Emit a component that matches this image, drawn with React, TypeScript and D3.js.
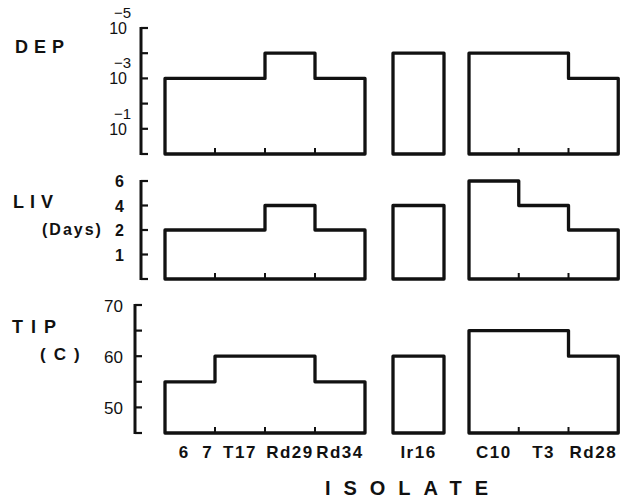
import React from "react";
import * as d3 from "d3";

// ---- data ----
const isolates = ["6  7", "T17", "Rd29", "Rd34", "Ir16", "C10", "T3", "Rd28"];
const groupOf = [0, 0, 0, 0, 1, 2, 2, 2];
const depValues = [1e-3, 1e-3, 1e-4, 1e-3, 1e-4, 1e-4, 1e-4, 1e-3];
const livValues = [2, 2, 4, 2, 4, 6, 4, 2];
const tipValues = [55, 60, 60, 55, 60, 65, 65, 60];

const depTicks = [1, 1e-1, 1e-2, 1e-3, 1e-4, 1e-5];
const depLabelExps = [-1, -3, -5];
const livTicks = [0, 1, 2, 4, 6];
const livLabels = [1, 2, 4, 6];
const tipTicks = [45, 50, 55, 60, 65, 70];
const tipLabels = [50, 60, 70];

// layout
const W = 621;
const H = 500;
const groupStarts = [0, 4.56, 6.08]; // in column units
const FONT = "'Liberation Sans', Arial, Helvetica, sans-serif";

const xUnit = d3.scaleLinear().domain([0, 9.06]).range([165, 618]);

function colUnits() {
  const res: { left: number; right: number; g: number }[] = [];
  const counters = [0, 0, 0];
  const widths = [1, 1.02, 0.995];
  isolates.forEach((_, i) => {
    const g = groupOf[i];
    const left = groupStarts[g] + counters[g] * widths[g];
    const right = left + widths[g];
    counters[g] += 1;
    res.push({ left, right, g });
  });
  return res;
}
const cols = colUnits();

type Panel = {
  key: string;
  values: number[];
  y: (v: number) => number;
  base: number;
  ticks: number[];
  axisX: number;
};

const yDep = d3.scaleLog().domain([1, 1e-5]).range([154, 28]);
const yLiv = d3
  .scaleLinear()
  .domain(livTicks)
  .range(livTicks.map((_, i) => 279 - (i * (279 - 181)) / (livTicks.length - 1)));
const yTip = d3.scaleLinear().domain([45, 70]).range([433, 305]);

const panels: Panel[] = [
  { key: "dep", values: depValues, y: yDep, base: yDep(1), ticks: depTicks, axisX: 141 },
  { key: "liv", values: livValues, y: yLiv, base: yLiv(0), ticks: livTicks, axisX: 141 },
  { key: "tip", values: tipValues, y: yTip, base: yTip(45), ticks: tipTicks, axisX: 135 },
];

const lineGen = d3.line<[number, number]>();

function groupPath(p: Panel, g: number): string {
  const idx = cols.map((c, i) => i).filter((i) => cols[i].g === g);
  const pts: [number, number][] = [];
  const x0 = xUnit(cols[idx[0]].left);
  pts.push([x0, p.base]);
  idx.forEach((i) => {
    pts.push([xUnit(cols[i].left), p.y(p.values[i])]);
    pts.push([xUnit(cols[i].right), p.y(p.values[i])]);
  });
  const xn = xUnit(cols[idx[idx.length - 1]].right);
  pts.push([xn, p.base]);
  return lineGen(pts) + "Z";
}

function innerTicks(p: Panel, g: number) {
  const idx = cols.map((c, i) => i).filter((i) => cols[i].g === g);
  return idx.slice(1).map((i) => xUnit(cols[i].left));
}

export default function App() {
  const stroke = "#111";
  return (
    <svg
      width={W}
      height={H}
      style={{ position: "absolute", left: 0, top: 0, background: "#fff" }}
      fontFamily={FONT}
    >
      <rect x={0} y={0} width={W} height={H} fill="#fff" />
      {panels.map((p) => (
        <g key={p.key}>
          <line x1={p.axisX} x2={p.axisX} y1={p.y(p.ticks[p.ticks.length - 1]) - 1} y2={p.base + 1} stroke={stroke} strokeWidth={3} />
          {p.ticks.map((t, i) => (
            <line
              key={i}
              x1={p.axisX}
              x2={p.axisX + 7}
              y1={p.y(t)}
              y2={p.y(t)}
              stroke={stroke}
              strokeWidth={2.2}
            />
          ))}
          {[0, 1, 2].map((g) => (
            <g key={g}>
              <path d={groupPath(p, g)} fill="none" stroke={stroke} strokeWidth={3.3} strokeLinejoin="round" />
              {innerTicks(p, g).map((x, j) => (
                <line key={j} x1={x} x2={x} y1={p.base} y2={p.base - 6} stroke={stroke} strokeWidth={2} />
              ))}
            </g>
          ))}
        </g>
      ))}

      {/* DEP labels */}
      <text x={15} y={53} fontSize={18} fontWeight="bold" letterSpacing={6} fill={stroke}>DEP</text>
      {depLabelExps.map((e) => (
        <g key={e}>
          <text x={127} y={yDep(Math.pow(10, e)) + 6} fontSize={16} textAnchor="end" fill={stroke}>10</text>
          <text x={114} y={yDep(Math.pow(10, e)) - 10} fontSize={15} fill={stroke}>{"\u2212" + Math.abs(e)}</text>
        </g>
      ))}

      {/* LIV labels */}
      <text x={13} y={208} fontSize={18} fontWeight="bold" letterSpacing={6} fill={stroke}>LIV</text>
      <text x={42} y={235} fontSize={16} fontWeight="bold" letterSpacing={2} fill={stroke}>(Days)</text>
      {livLabels.map((v) => (
        <text key={v} x={124} y={yLiv(v) + 6} fontSize={16} fontWeight="bold" textAnchor="end" fill={stroke}>{v}</text>
      ))}

      {/* TIP labels */}
      <text x={12} y={333} fontSize={18} fontWeight="bold" letterSpacing={8} fill={stroke}>TIP</text>
      <text x={40} y={360} fontSize={17} fontWeight="bold" letterSpacing={8} fill={stroke}>(C)</text>
      {tipLabels.map((v) => (
        <text key={v} x={123} y={yTip(v) + 6.5} fontSize={17} textAnchor="end" fill={stroke}>{v}</text>
      ))}

      {/* isolate labels */}
      {isolates.map((name, i) => (
        <text
          key={name}
          x={xUnit((cols[i].left + cols[i].right) / 2) + (i === 0 ? 6 : 0)}
          y={458}
          fontSize={17}
          fontWeight="bold"
          letterSpacing={1.5}
          textAnchor="middle"
          style={{ whiteSpace: "pre" }}
          fill={stroke}
        >
          {name}
        </text>
      ))}

      <text x={413} y={495} fontSize={20} fontWeight="bold" letterSpacing={13} textAnchor="middle" fill={stroke}>ISOLATE</text>
    </svg>
  );
}
